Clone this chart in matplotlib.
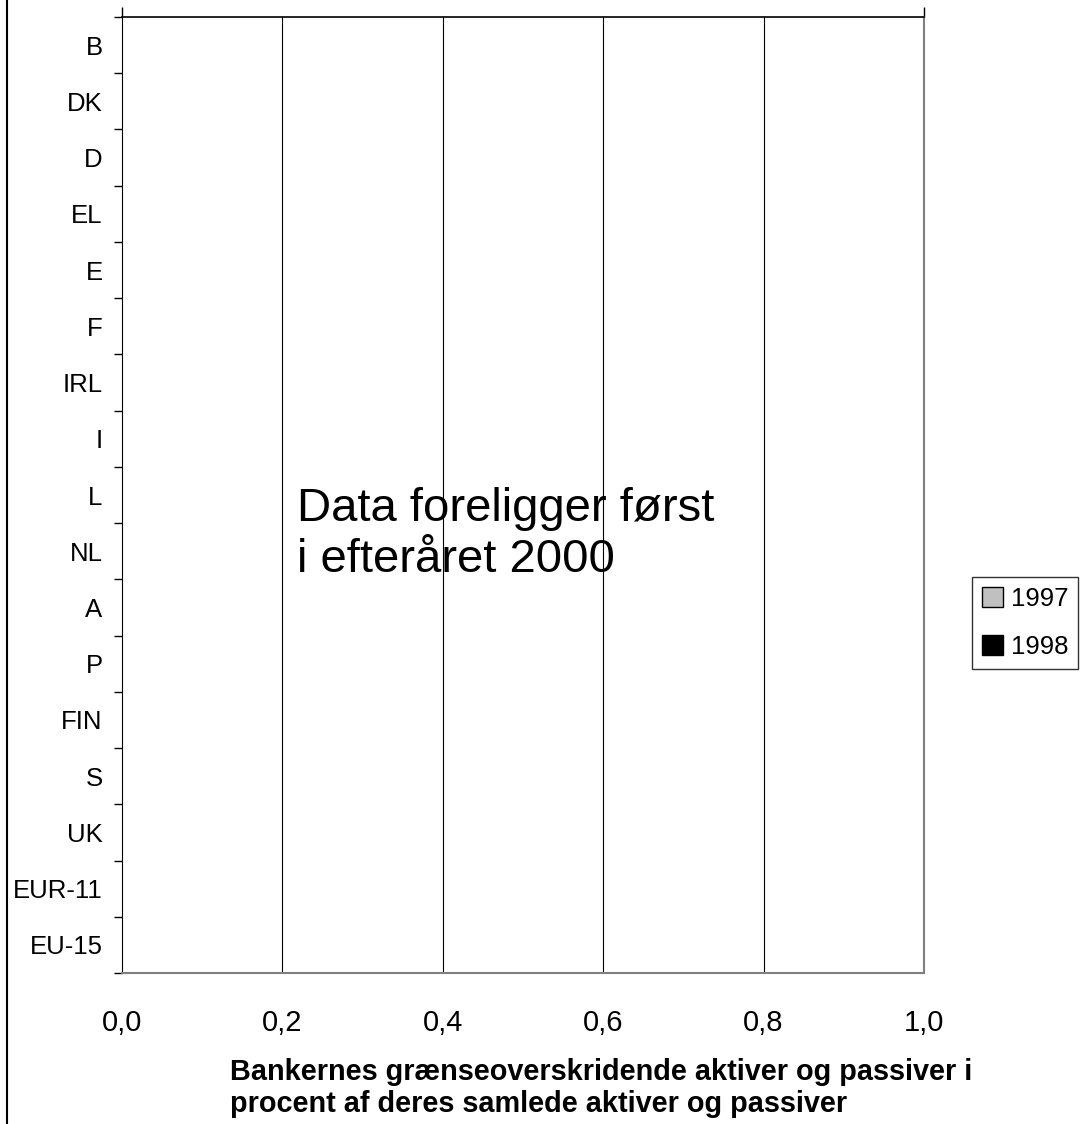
import numpy as np
import matplotlib.pyplot as plt
from matplotlib.lines import Line2D

plt.rcParams['font.family'] = ['Liberation Sans', 'DejaVu Sans']

# lande (oppefra og ned)
lande = ["B", "DK", "D", "EL", "E", "F", "IRL", "I", "L", "NL", "A", "P",
         "FIN", "S", "UK", "EUR-11", "EU-15"]
# ingen data endnu
vaerdi_1997 = [np.nan] * len(lande)
vaerdi_1998 = [np.nan] * len(lande)
xticks = [0.0, 0.2, 0.4, 0.6, 0.8, 1.0]
xlabels = ["0,0", "0,2", "0,4", "0,6", "0,8", "1,0"]

fs = 18.5

fig = plt.figure(figsize=(10.8, 11.24), dpi=100)
ax = fig.add_axes([122 / 1080, 1 - 973 / 1124, (924 - 122) / 1080, (973 - 17) / 1124])

y = np.arange(len(lande))
h = 0.35
ax.barh(y - h / 2, vaerdi_1997, height=h, color="#c0c0c0", edgecolor="black", label="1997")
ax.barh(y + h / 2, vaerdi_1998, height=h, color="black", edgecolor="black", label="1998")

ax.set_xlim(0, 1.0)
ax.set_ylim(len(lande) - 0.5, -0.5)

ax.set_yticks(y)
ax.set_yticklabels(lande, fontsize=fs)
ax.set_yticks(np.arange(len(lande) + 1) - 0.5, minor=True)
ax.tick_params(axis="y", which="major", length=0, pad=14)
ax.tick_params(axis="y", which="minor", length=6, width=1, direction="out")

ax.set_xticks(xticks)
ax.set_xticklabels(xlabels, fontsize=21)
ax.tick_params(axis="x", length=0, pad=26)

for xv in xticks[1:-1]:
    ax.axvline(xv, color="black", lw=0.8)

ax.spines["left"].set_color("black")
ax.spines["top"].set_color("black")
ax.spines["top"].set_linewidth(1.2)
ax.spines["right"].set_color("#808080")
ax.spines["right"].set_linewidth(1.5)
ax.spines["bottom"].set_color("#808080")
ax.spines["bottom"].set_linewidth(1.5)

sec = ax.secondary_xaxis("top")
sec.set_xticks([0.0, 1.0])
sec.set_xticklabels(["", ""])
sec.tick_params(length=7, width=1, direction="out")
sec.spines["top"].set_visible(False)

ax.text(0.218, 8.7, "Data foreligger først\ni efteråret 2000", fontsize=34,
        ha="left", va="center", linespacing=1.22)

fig.text(230 / 1080, 1 - 1058 / 1124,
         "Bankernes grænseoverskridende aktiver og passiver i\nprocent af deres samlede aktiver og passiver",
         fontsize=20.8, fontweight="bold", ha="left", va="top", linespacing=1.2)

leg = ax.legend(loc="center left", bbox_to_anchor=(972 / 1080, 1 - 623 / 1124),
                bbox_transform=fig.transFigure, borderaxespad=0, fontsize=fs,
                frameon=True, fancybox=False, edgecolor="black",
                handlelength=0.8, handleheight=0.8, handletextpad=0.3,
                borderpad=0.4, labelspacing=0.95)
leg.get_frame().set_linewidth(1)
for p in leg.get_patches():
    p.set_edgecolor("black")

fig.add_artist(Line2D([7 / 1080, 7 / 1080], [0, 1], color="black", lw=1.5,
                      transform=fig.transFigure))

plt.savefig("out.png", dpi=100)
